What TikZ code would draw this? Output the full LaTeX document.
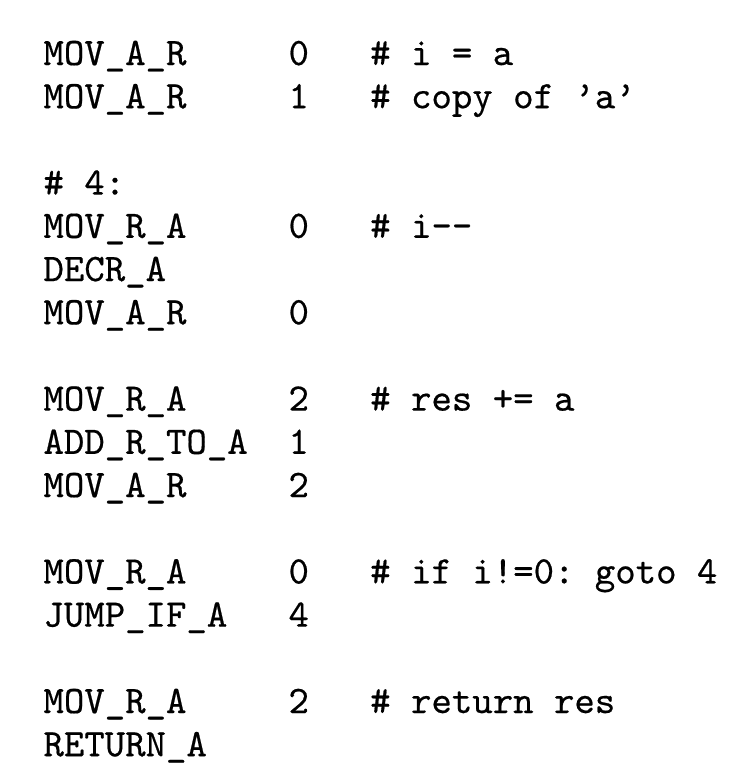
\documentclass[tikz,border=0pt]{standalone}
\usepackage{fontspec}
\setmonofont{lmmono10-regular.otf}[FakeBold=0.5]
\begin{document}
\begin{tikzpicture}[x=1pt,y=-1pt,
  code/.style={anchor=base west,inner sep=0pt,outer sep=0pt,font=\fontsize{38.9}{43}\selectfont\ttfamily}]
\useasboundingbox (0,0) rectangle (745,779);
\def\cw{20.42}
\def\xa{43.5}
\pgfmathsetmacro\xb{\xa+12*\cw}
\pgfmathsetmacro\xc{\xa+16*\cw}
\def\pitch{43.2}
\def\yo{65}
\newcommand\rowy[1]{\yo+(#1-1)*\pitch}
% row 1
\node[code] (r1a) at (\xa,{\rowy{1}}) {MOV\_A\_R};
\node[code] (r1b) at (\xb,{\rowy{1}}) {0};
\node[code] (r1c) at (\xc,{\rowy{1}}) {\# i = a};
% row 2
\node[code] (r2a) at (\xa,{\rowy{2}}) {MOV\_A\_R};
\node[code] (r2b) at (\xb,{\rowy{2}}) {1};
\node[code] (r2c) at (\xc,{\rowy{2}}) {\# copy of ’a’};
% row 4
\node[code] (r4a) at (\xa,{\rowy{4}}) {\# 4:};
% row 5
\node[code] (r5a) at (\xa,{\rowy{5}}) {MOV\_R\_A};
\node[code] (r5b) at (\xb,{\rowy{5}}) {0};
\node[code] (r5c) at (\xc,{\rowy{5}}) {\# i-\kern0pt-};
% row 6
\node[code] (r6a) at (\xa,{\rowy{6}}) {DECR\_A};
% row 7
\node[code] (r7a) at (\xa,{\rowy{7}}) {MOV\_A\_R};
\node[code] (r7b) at (\xb,{\rowy{7}}) {0};
% row 9
\node[code] (r9a) at (\xa,{\rowy{9}}) {MOV\_R\_A};
\node[code] (r9b) at (\xb,{\rowy{9}}) {2};
\node[code] (r9c) at (\xc,{\rowy{9}}) {\# res += a};
% row 10
\node[code] (r10a) at (\xa,{\rowy{10}}) {ADD\_R\_TO\_A};
\node[code] (r10b) at (\xb,{\rowy{10}}) {1};
% row 11
\node[code] (r11a) at (\xa,{\rowy{11}}) {MOV\_A\_R};
\node[code] (r11b) at (\xb,{\rowy{11}}) {2};
% row 13
\node[code] (r13a) at (\xa,{\rowy{13}}) {MOV\_R\_A};
\node[code] (r13b) at (\xb,{\rowy{13}}) {0};
\node[code] (r13c) at (\xc,{\rowy{13}}) {\# if i!=0: goto 4};
% row 14
\node[code] (r14a) at (\xa,{\rowy{14}}) {JUMP\_IF\_A};
\node[code] (r14b) at (\xb,{\rowy{14}}) {4};
% row 16
\node[code] (r16a) at (\xa,{\rowy{16}}) {MOV\_R\_A};
\node[code] (r16b) at (\xb,{\rowy{16}}) {2};
\node[code] (r16c) at (\xc,{\rowy{16}}) {\# return res};
% row 17
\node[code] (r17a) at (\xa,{\rowy{17}}) {RETURN\_A};
\end{tikzpicture}
\end{document}
